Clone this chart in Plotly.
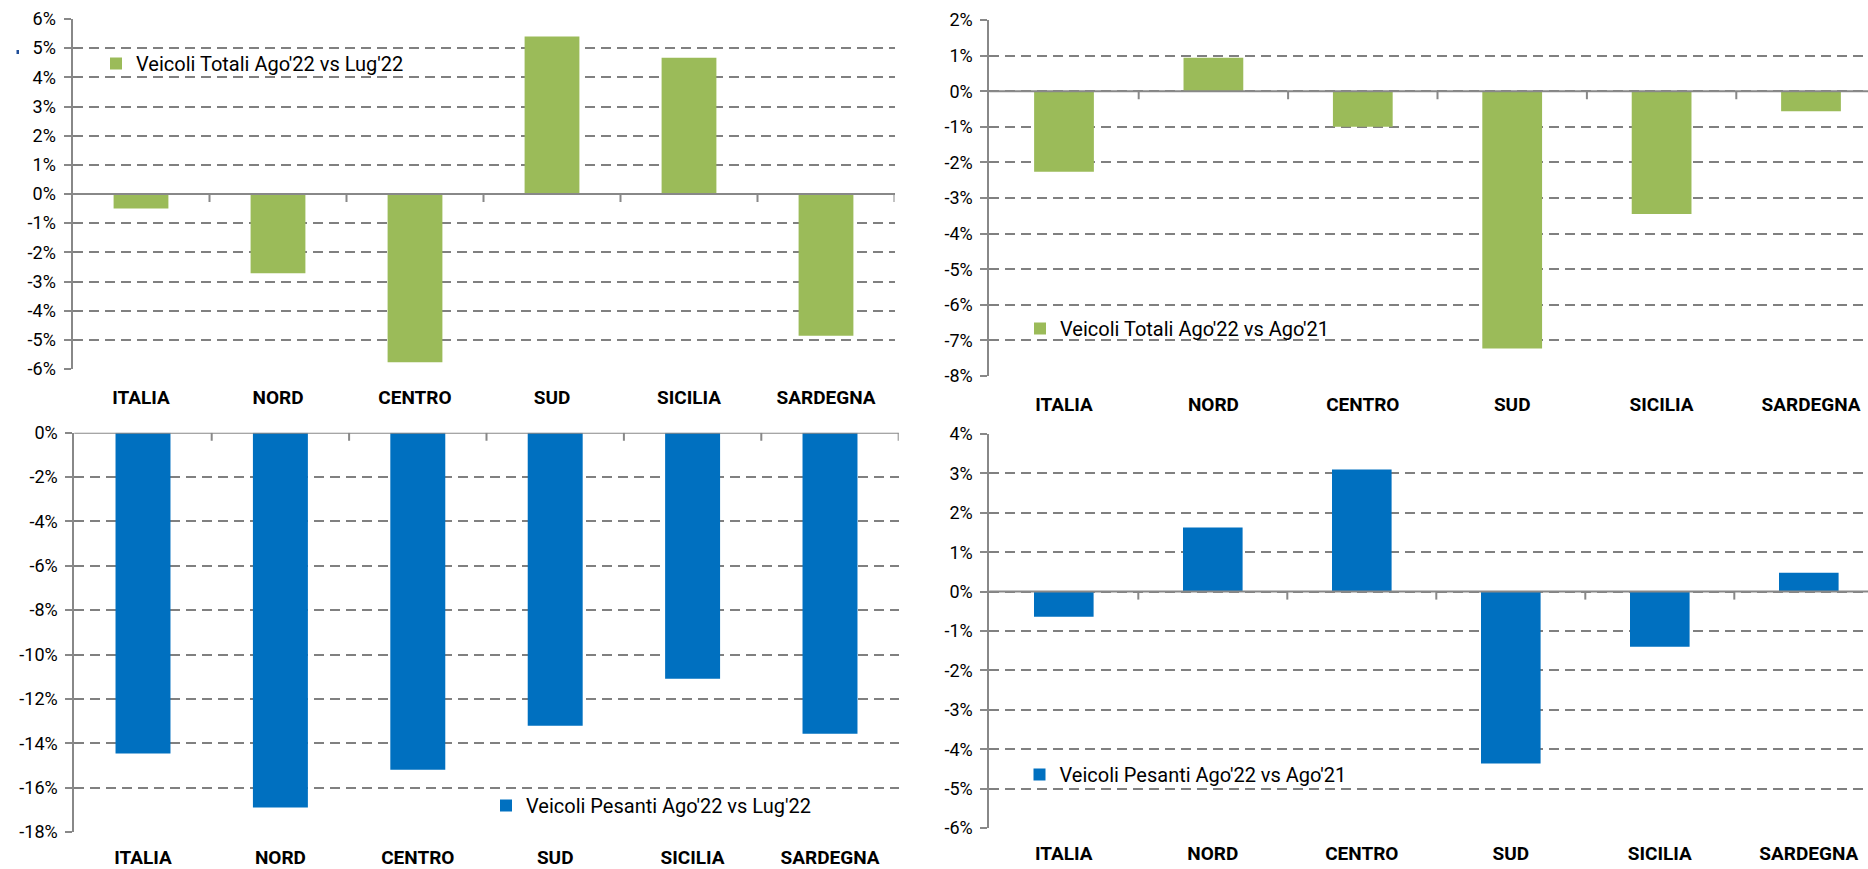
import plotly.graph_objects as go

# ---------------- data ----------------
categories = ["ITALIA", "NORD", "CENTRO", "SUD", "SICILIA", "SARDEGNA"]

totali_ago_lug = [-0.50, -2.72, -5.77, 5.40, 4.67, -4.86]
totali_ago_ago = [-2.26, 0.94, -1.00, -7.23, -3.45, -0.56]
pesanti_ago_lug = [-14.46, -16.90, -15.19, -13.21, -11.09, -13.57]
pesanti_ago_ago = [-0.64, 1.63, 3.10, -4.36, -1.40, 0.48]

name_tl = "Veicoli Totali Ago'22 vs Lug'22"
name_tr = "Veicoli Totali Ago'22 vs Ago'21"
name_bl = "Veicoli Pesanti Ago'22 vs Lug'22"
name_br = "Veicoli Pesanti Ago'22 vs Ago'21"

ticks_tl = list(range(-6, 7, 1))
ticks_tr = list(range(-8, 3, 1))
ticks_bl = list(range(-18, 1, 2))
ticks_br = list(range(-6, 5, 1))

GREEN = "#9BBB59"
BLUE = "#0070C0"
GRID = "#808080"
AXIS = "#888888"

W, H = 1868, 869


def fx(p):
    return p / W


def fy(p):
    return 1 - p / H


# panel geometry (pixels)
panels = [
    dict(xl=72.5, xr=894.5, yt=19, yb=369, yr=[-6, 6], ticks=ticks_tl, vals=totali_ago_lug,
         name=name_tl, color=GREEN, cw=137.0, leg=(117, 63.5), so=15),
    dict(xl=989.3, xr=W, yt=20, yb=376, yr=[-8, 2], ticks=ticks_tr, vals=totali_ago_ago,
         name=name_tr, color=GREEN, cw=149.4, leg=(1041, 328.5), so=15),
    dict(xl=74.3, xr=898.7, yt=432.7, yb=832, yr=[-18, 0], ticks=ticks_bl, vals=pesanti_ago_lug,
         name=name_bl, color=BLUE, cw=137.4, leg=(507, 805.5), so=12),
    dict(xl=989.3, xr=W, yt=434, yb=828, yr=[-6, 4], ticks=ticks_br, vals=pesanti_ago_ago,
         name=name_br, color=BLUE, cw=149.0, leg=(1040.5, 774.5), so=12),
]

fig = go.Figure()
layout = dict(
    width=W, height=H,
    margin=dict(l=0, r=0, t=0, b=0, autoexpand=False),
    paper_bgcolor="white", plot_bgcolor="white",
    bargap=0.6,
    font=dict(family="Roboto, Arial, sans-serif", color="#000000"),
    shapes=[],
)

for i, p in enumerate(panels, start=1):
    sfx = "" if i == 1 else str(i)
    leg = "legend" if i == 1 else f"legend{i}"
    fig.add_trace(go.Bar(
        x=categories, y=p["vals"], name=p["name"], marker=dict(color=p["color"], line=dict(width=0)),
        xaxis=f"x{sfx}", yaxis=f"y{sfx}", legend=leg, showlegend=True,
    ))
    xmax = -0.5 + (p["xr"] - p["xl"]) / p["cw"]
    layout[f"xaxis{sfx}"] = dict(
        domain=[fx(p["xl"]), fx(p["xr"])], anchor=f"y{sfx}", type="category",
        range=[-0.5, xmax], showline=False, showgrid=False, zeroline=False, automargin=False,
        ticks="", tickfont=dict(size=19, family="Roboto, Arial, sans-serif", weight="bold", color="#000000"),
        ticklabelstandoff=p["so"], fixedrange=True,
    )
    layout[f"yaxis{sfx}"] = dict(
        domain=[fy(p["yb"]), fy(p["yt"])], anchor=f"x{sfx}", range=p["yr"], automargin=False,
        tickvals=p["ticks"], ticktext=[f"{v}%" for v in p["ticks"]],
        tickfont=dict(size=18, color="#000000"),
        showline=True, linecolor=AXIS, linewidth=2,
        ticks="outside", ticklen=7, tickwidth=2, tickcolor=AXIS, ticklabelstandoff=4,
        showgrid=True, gridcolor=GRID, gridwidth=2, griddash="10px,6px",
        zeroline=False, fixedrange=True,
    )
    lx, ly = p["leg"]
    layout[leg] = dict(
        x=fx(lx - 21), y=fy(ly), xanchor="left", yanchor="middle",
        bgcolor="rgba(0,0,0,0)", borderwidth=0,
        font=dict(size=20, color="#000000", family="Roboto, Arial, sans-serif"),
    )
    # zero axis line with category-boundary ticks
    layout["shapes"].append(dict(
        type="line", xref=f"x{sfx} domain", yref=f"y{sfx}", x0=0, x1=1, y0=0, y1=0,
        line=dict(color=AXIS, width=2), layer="above",
    ))
    for k in range(len(categories) + 1):
        b = k - 0.5
        if b <= -0.5 or b > xmax:
            continue
        layout["shapes"].append(dict(
            type="line", xref=f"x{sfx}", yref=f"y{sfx}", x0=b, x1=b,
            ysizemode="pixel", yanchor=0, y0=0, y1=-8,
            line=dict(color=AXIS, width=2), layer="above",
        ))

# small stray dot present in the original image
layout["shapes"].append(dict(
    type="rect", xref="paper", yref="paper",
    x0=fx(16.5), x1=fx(19), y0=fy(54), y1=fy(50),
    fillcolor="#1F4E99", line=dict(width=0),
))

fig.update_layout(**layout)
fig.write_html(
    "out.html",
    config={"displayModeBar": False},
    post_script="document.body.style.margin='0';document.body.style.overflow='hidden';",
)
